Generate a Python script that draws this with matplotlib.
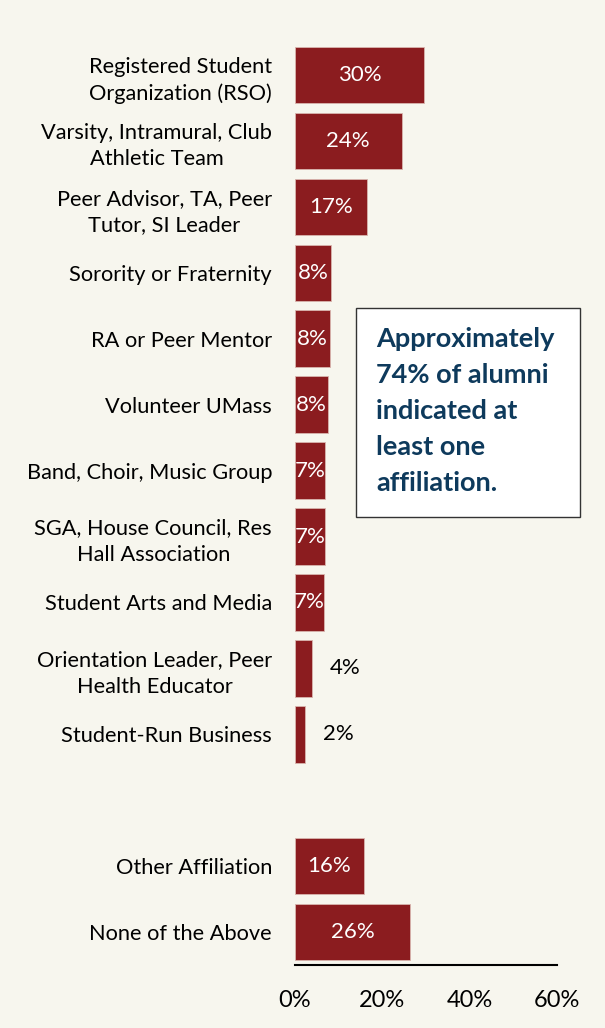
import matplotlib.pyplot as plt
import numpy as np

plt.rcParams['font.family'] = ['Lato', 'DejaVu Sans']

labels = ['Registered Student\nOrganization (RSO)',
          'Varsity, Intramural, Club\nAthletic Team',
          'Peer Advisor, TA, Peer\nTutor, SI Leader',
          'Sorority or Fraternity',
          'RA or Peer Mentor',
          'Volunteer UMass',
          'Band, Choir, Music Group',
          'SGA, House Council, Res\nHall Association',
          'Student Arts and Media',
          'Orientation Leader, Peer\nHealth Educator',
          'Student-Run Business',
          '',
          'Other Affiliation',
          'None of the Above']
values = [29.5, 24.4, 16.6, 8.3, 8.1, 7.6, 6.9, 6.9, 6.7, 3.9, 2.3, np.nan, 15.8, 26.3]
shown = ['30%', '24%', '17%', '8%', '8%', '8%', '7%', '7%', '7%', '4%', '2%', '', '16%', '26%']
xticks = [0, 20, 40, 60]

bg = '#F7F6EE'
bar_color = '#8B1C1F'

fig = plt.figure(figsize=(6.05, 10.28), dpi=100, facecolor=bg)
ax = fig.add_axes([0.4876, 0.0613, 0.4331, 0.8977], facecolor=bg)

y = np.arange(len(labels))
vals = np.array(values, dtype=float)
ok = ~np.isnan(vals)
ax.barh(y[ok], vals[ok], height=0.86, color=bar_color, edgecolor='#D9B5AE', linewidth=0.6)

for i, v in enumerate(vals):
    if not shown[i]:
        continue
    if v >= 5:
        ax.text(v / 2, i, shown[i], ha='center', va='center', color='white', fontsize=16)
    else:
        ax.text(v + 4.0, i, shown[i], ha='left', va='center', color='black', fontsize=16)

ax.set_ylim(len(labels) - 0.5, -0.5)
ax.set_xlim(0, 60)
ax.set_yticks(y)
ax.set_yticklabels(labels, fontsize=15.7, linespacing=1.4, multialignment='center')
ax.set_xticks(xticks)
ax.set_xticklabels([f'{t}%' for t in xticks], fontsize=17)
ax.tick_params(axis='y', length=0, pad=16.5)
ax.tick_params(axis='x', length=0, pad=18)
for s in ['top', 'right', 'left']:
    ax.spines[s].set_visible(False)
ax.spines['bottom'].set_linewidth(1.5)

box = plt.Rectangle((356 / 605, 1 - 517 / 1028), 224 / 605, 209 / 1028,
                    transform=fig.transFigure, facecolor='white', edgecolor='#333333',
                    linewidth=1.0, zorder=3)
fig.add_artist(box)
fig.text(376 / 605, 1 - 411 / 1028, 'Approximately\n74% of alumni\nindicated at\nleast one\naffiliation.',
         ha='left', va='center', fontsize=19.5, fontweight='bold', color='#0E3A5C',
         linespacing=1.6, zorder=4)

fig.savefig('out.png', dpi=100, facecolor=bg)
